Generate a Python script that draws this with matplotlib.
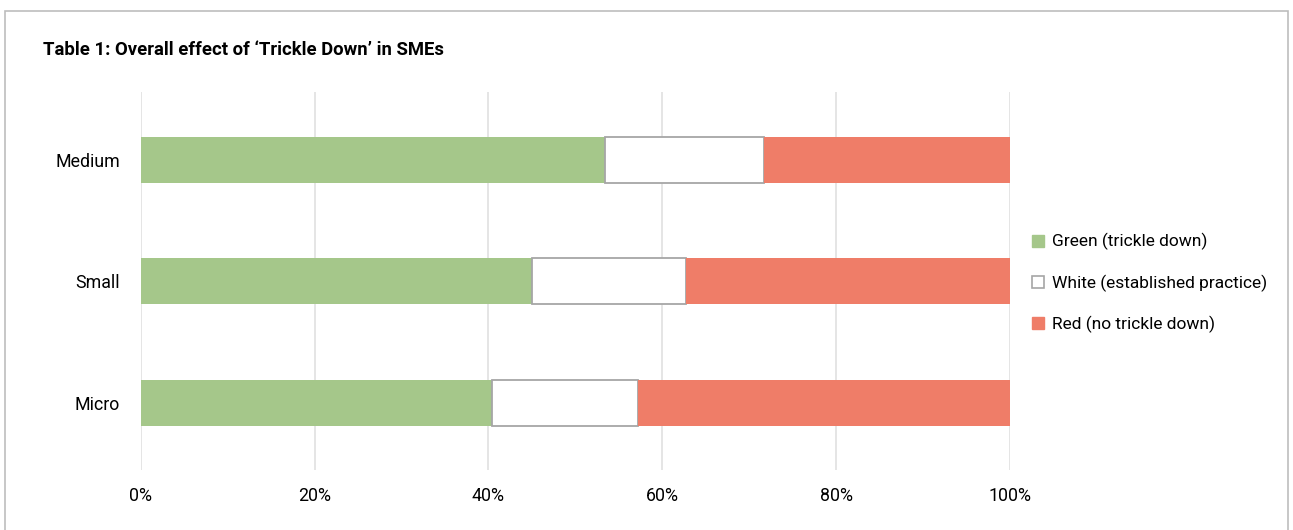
import numpy as np
import matplotlib.pyplot as plt
from matplotlib.patches import Rectangle
from matplotlib.lines import Line2D
import matplotlib.ticker as tick

plt.rcParams['font.family'] = ['Roboto', 'DejaVu Sans']

categories = ["Micro", "Small", "Medium"]
green = [40.4, 45.0, 53.4]
white = [16.8, 17.7, 18.3]
red = [42.8, 37.3, 28.3]

labels = ["Green (trickle down)", "White (established practice)", "Red (no trickle down)"]
GREEN = "#a5c78a"
RED = "#ef7d68"
EDGE = "#a6a6a6"

fig = plt.figure(figsize=(12.93, 5.30), dpi=100)
ax = fig.add_axes([0.109, 0.113, 0.672, 0.713])

y = np.arange(len(categories))
h = 0.38
ax.barh(y, green, height=h, color=GREEN, zorder=3)
ax.barh(y, white, left=green, height=h, color="white", edgecolor=EDGE, linewidth=1.3, zorder=3)
ax.barh(y, red, left=np.array(green) + np.array(white), height=h, color=RED, zorder=3)

ax.set_xlim(0, 100)
ax.set_ylim(-0.555, 2.555)
ax.set_yticks(y)
ax.set_yticklabels(categories, fontsize=12.8)
ax.xaxis.set_major_locator(tick.MultipleLocator(20))
ax.xaxis.set_major_formatter(tick.FuncFormatter(lambda v, p: f"{v:.0f}%"))
ax.tick_params(axis="x", labelsize=12.8, length=0, pad=12)
ax.tick_params(axis="y", length=0, pad=15)
ax.grid(axis="x", color="#e3e3e3", linewidth=1.3, zorder=0)
for s in ax.spines.values():
    s.set_visible(False)

handles = [
    Line2D([], [], marker="s", linestyle="", markersize=8, markerfacecolor=GREEN, markeredgecolor=GREEN),
    Line2D([], [], marker="s", linestyle="", markersize=8, markerfacecolor="white", markeredgecolor=EDGE, markeredgewidth=1.2),
    Line2D([], [], marker="s", linestyle="", markersize=8, markerfacecolor=RED, markeredgecolor=RED),
]
fig.legend(handles, labels, loc="center left", bbox_to_anchor=(0.783, 0.466), frameon=False,
           fontsize=12.5, handletextpad=0.2, labelspacing=1.38, handlelength=1.2)

fig.text(0.033, 0.905, "Table 1: Overall effect of \u2018Trickle Down\u2019 in SMEs",
         fontsize=13.3, fontweight="bold", va="center")

fig.patches.append(Rectangle((0.004, -0.01), 0.992, 0.99, transform=fig.transFigure,
                             fill=False, edgecolor="#bdbdbd", linewidth=1.2))

fig.savefig("out.png", dpi=100)
